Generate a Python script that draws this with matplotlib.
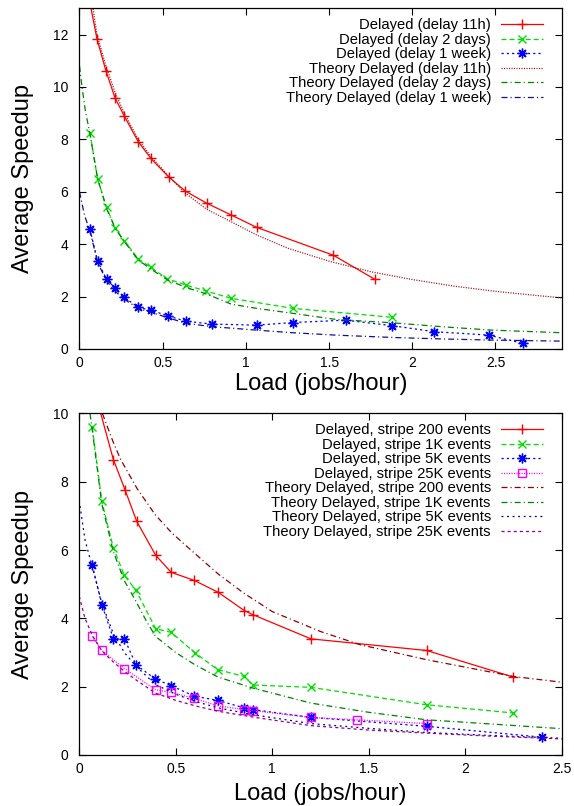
import matplotlib.pyplot as plt
from matplotlib.ticker import FormatStrFormatter, MultipleLocator

plt.rcParams['font.family'] = ['Liberation Sans', 'DejaVu Sans']
plt.rcParams['lines.scale_dashes'] = False

# speedup vs load for the three delay lengths
load_11h = [0.057, 0.105, 0.159, 0.213, 0.269, 0.353, 0.429, 0.535, 0.635, 0.765, 0.913, 1.065, 1.525, 1.775]
speed_11h = [13.4, 11.83, 10.61, 9.59, 8.89, 7.91, 7.27, 6.57, 6.03, 5.56, 5.11, 4.64, 3.58, 2.66]

load_2d = [0.063, 0.109, 0.163, 0.215, 0.269, 0.353, 0.429, 0.525, 0.639, 0.763, 0.913, 1.283, 1.879]
speed_2d = [8.23, 6.48, 5.40, 4.60, 4.13, 3.44, 3.11, 2.69, 2.44, 2.21, 1.93, 1.55, 1.21]

load_1w = [0.063, 0.109, 0.163, 0.215, 0.269, 0.353, 0.429, 0.529, 0.639, 0.799, 1.065, 1.283, 1.599, 1.879, 2.133, 2.459, 2.668]
speed_1w = [4.56, 3.35, 2.66, 2.31, 1.97, 1.59, 1.48, 1.27, 1.06, 0.95, 0.91, 1.01, 1.10, 0.89, 0.66, 0.53, 0.21]

th_load_11h = [0.06, 0.105, 0.159, 0.213, 0.269, 0.353, 0.429, 0.535, 0.635, 0.765, 0.913, 1.065, 1.25, 1.5, 1.75, 2.0, 2.25, 2.5, 2.75, 2.9]
th_speed_11h = [13.9, 12.0, 10.8, 9.8, 9.0, 8.0, 7.35, 6.6, 5.95, 5.33, 4.85, 4.35, 3.85, 3.35, 2.95, 2.65, 2.4, 2.2, 2.04, 1.95]

th_load_2d = [0.0, 0.015, 0.035, 0.063, 0.109, 0.163, 0.215, 0.269, 0.353, 0.429, 0.525, 0.639, 0.763, 0.913, 1.065, 1.283, 1.539, 1.879, 2.2, 2.479, 2.9]
th_speed_2d = [10.8, 10.0, 9.1, 8.2, 6.5, 5.35, 4.6, 4.1, 3.4, 3.05, 2.65, 2.35, 2.1, 1.71, 1.55, 1.36, 1.13, 1.0, 0.84, 0.72, 0.62]

th_load_1w = [0.0, 0.03, 0.063, 0.109, 0.163, 0.215, 0.269, 0.353, 0.429, 0.529, 0.639, 0.799, 1.065, 1.283, 1.539, 1.879, 2.2, 2.479, 2.9]
th_speed_1w = [6.0, 5.1, 4.5, 3.3, 2.6, 2.2, 1.9, 1.55, 1.4, 1.2, 0.98, 0.85, 0.72, 0.62, 0.53, 0.44, 0.38, 0.34, 0.30]

# speedup vs load for the four stripe sizes
load_200 = [0.068, 0.177, 0.237, 0.298, 0.396, 0.476, 0.597, 0.721, 0.855, 0.899, 1.201, 1.8, 2.25]
speed_200 = [10.9, 8.65, 7.77, 6.84, 5.85, 5.35, 5.11, 4.76, 4.23, 4.11, 3.40, 3.06, 2.28]

load_1k = [0.068, 0.117, 0.177, 0.234, 0.294, 0.396, 0.476, 0.6, 0.717, 0.855, 0.899, 1.201, 1.8, 2.25]
speed_1k = [9.59, 7.43, 6.06, 5.26, 4.82, 3.70, 3.59, 2.99, 2.50, 2.30, 2.05, 1.98, 1.47, 1.23]

load_5k = [0.068, 0.117, 0.177, 0.234, 0.294, 0.393, 0.476, 0.597, 0.717, 0.855, 0.899, 1.201, 1.8, 2.4]
speed_5k = [5.55, 4.40, 3.41, 3.41, 2.64, 2.23, 2.03, 1.72, 1.60, 1.38, 1.33, 1.10, 0.84, 0.52]

load_25k = [0.068, 0.117, 0.234, 0.396, 0.476, 0.597, 0.717, 0.855, 0.899, 1.201, 1.438, 1.8]
speed_25k = [3.47, 3.06, 2.53, 1.91, 1.83, 1.66, 1.44, 1.33, 1.30, 1.10, 1.03, 0.92]

th_load_200 = [0.12, 0.177, 0.215, 0.3, 0.393, 0.48, 0.583, 0.72, 0.85, 1.0, 1.248, 1.455, 1.8, 2.25, 2.5]
th_speed_200 = [10.0, 9.15, 8.65, 7.8, 7.04, 6.5, 5.98, 5.3, 4.75, 4.2, 3.62, 3.23, 2.79, 2.30, 2.13]

th_load_1k = [0.056, 0.068, 0.117, 0.177, 0.234, 0.289, 0.35, 0.396, 0.5, 0.6, 0.72, 0.9, 1.2, 1.5, 1.8, 2.1, 2.5]
th_speed_1k = [10.0, 9.5, 7.35, 5.95, 5.1, 4.55, 3.9, 3.47, 3.0, 2.64, 2.28, 1.96, 1.52, 1.25, 1.03, 0.92, 0.77]

th_load_5k = [0.0, 0.03, 0.068, 0.117, 0.177, 0.234, 0.294, 0.396, 0.5, 0.6, 0.72, 0.9, 1.2, 1.5, 1.8, 2.1, 2.5]
th_speed_5k = [7.45, 6.3, 5.5, 4.45, 3.55, 3.0, 2.6, 2.06, 1.78, 1.57, 1.38, 1.18, 0.92, 0.78, 0.66, 0.58, 0.49]

th_load_25k = [0.0, 0.03, 0.068, 0.117, 0.177, 0.234, 0.294, 0.396, 0.5, 0.6, 0.72, 0.9, 1.2, 1.5, 1.8, 2.1, 2.5]
th_speed_25k = [4.65, 4.0, 3.5, 3.05, 2.72, 2.45, 2.2, 1.81, 1.6, 1.44, 1.28, 1.11, 0.86, 0.73, 0.64, 0.56, 0.47]

fig = plt.figure(figsize=(5.74, 8.06), dpi=100)
ax1 = fig.add_axes([0.1385, 0.567, 0.8406, 0.4227])
ax2 = fig.add_axes([0.138, 0.0633, 0.8406, 0.4237])

lw = 0.9
dash = (3.6, 2.2)
short = (1.6, 2.2)
dots = (0.8, 1.0)
dashdot = (4.3, 2.2, 0.8, 2.2)
star = (8, 2, 0)

ax1.plot(load_11h, speed_11h, color='#ff0000', lw=lw, marker='+', ms=7, mew=1,
         label='Delayed (delay 11h)')
ax1.plot(load_2d, speed_2d, color='#00e000', lw=lw, dashes=dash, marker='x', ms=6, mew=1,
         label='Delayed (delay 2 days)')
ax1.plot(load_1w, speed_1w, color='#0000ff', lw=lw, dashes=short, marker=star, ms=7, mew=1,
         label='Delayed (delay 1 week)')
ax1.plot(th_load_11h, th_speed_11h, color='#a01010', lw=lw, dashes=dots,
         label='Theory Delayed (delay 11h)')
ax1.plot(th_load_2d, th_speed_2d, color='#008000', lw=lw, dashes=dashdot,
         label='Theory Delayed (delay 2 days)')
ax1.plot(th_load_1w, th_speed_1w, color='#101090', lw=lw, dashes=dashdot,
         label='Theory Delayed (delay 1 week)')
ax1.set_xlim(0, 2.9)
ax1.set_ylim(0, 13)
ax1.yaxis.set_major_locator(MultipleLocator(2))

ax2.plot(load_200, speed_200, color='#ff0000', lw=lw, marker='+', ms=7, mew=1,
         label='Delayed, stripe 200 events')
ax2.plot(load_1k, speed_1k, color='#00e000', lw=lw, dashes=dash, marker='x', ms=6, mew=1,
         label='Delayed, stripe 1K events')
ax2.plot(load_5k, speed_5k, color='#0000ff', lw=lw, dashes=short, marker=star, ms=7, mew=1,
         label='Delayed, stripe 5K events')
ax2.plot(load_25k, speed_25k, color='#ff00ff', lw=lw, dashes=dots, marker='s', ms=6, mew=1,
         mfc='none', label='Delayed, stripe 25K events')
ax2.plot(th_load_200, th_speed_200, color='#8b0000', lw=lw, dashes=dashdot,
         label='Theory Delayed, stripe 200 events')
ax2.plot(th_load_1k, th_speed_1k, color='#008000', lw=lw, dashes=dashdot,
         label='Theory Delayed, stripe 1K events')
ax2.plot(th_load_5k, th_speed_5k, color='#000090', lw=lw, dashes=(1.4, 2.6),
         label='Theory Delayed, stripe 5K events')
ax2.plot(th_load_25k, th_speed_25k, color='#900090', lw=lw, dashes=(2.2, 2.2),
         label='Theory Delayed, stripe 25K events')
ax2.set_xlim(0, 2.5)
ax2.set_ylim(0, 10)
ax2.yaxis.set_major_locator(MultipleLocator(2))

for ax in (ax1, ax2):
    ax.xaxis.set_major_locator(MultipleLocator(0.5))
    ax.xaxis.set_major_formatter(FormatStrFormatter('%g'))
    ax.yaxis.set_major_formatter(FormatStrFormatter('%g'))
    ax.tick_params(direction='in', top=True, right=True, length=4.7, width=0.8,
                   labelsize=10)
    ax.tick_params(axis='x', pad=5)
    ax.tick_params(axis='y', pad=8)
    for sp in ax.spines.values():
        sp.set_linewidth(0.9)
    ax.set_xlabel('Load (jobs/hour)', fontsize=17)
    ax.set_ylabel('Average Speedup', fontsize=17)
    ax.yaxis.set_label_coords(-0.094, 0.5)
    ax.legend(loc='upper right', bbox_to_anchor=(0.961, 0.971), frameon=False,
              markerfirst=False, fontsize=10.6, handlelength=2.86, handletextpad=0.68,
              labelspacing=0.035, borderaxespad=0, borderpad=0, numpoints=1)

ax1.xaxis.set_label_coords(0.5, -0.069)
ax2.xaxis.set_label_coords(0.5, -0.081)

fig.savefig('out.png', dpi=100)
